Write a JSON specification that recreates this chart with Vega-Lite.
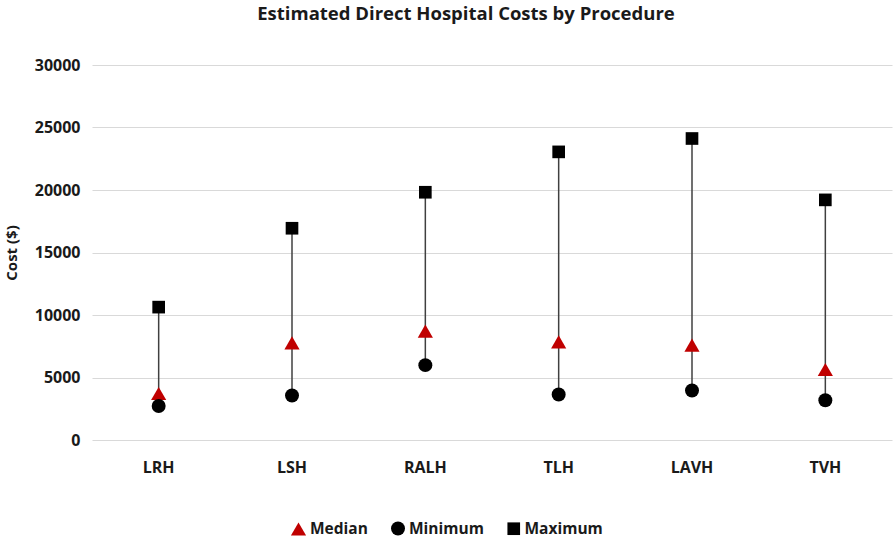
{
  "$schema": "https://vega.github.io/schema/vega-lite/v6.json",
  "autosize": "none",
  "width": 800,
  "height": 375,
  "padding": {"left": 92, "top": 65, "right": 2, "bottom": 98},
  "background": "white",
  "title": {
    "text": "Estimated Direct Hospital Costs by Procedure",
    "font": "Open Sans",
    "fontSize": 18.5,
    "fontWeight": "bold",
    "color": "#1a1a1a",
    "offset": 34,
    "dx": -26
  },
  "config": {
    "view": {"stroke": null},
    "font": "Open Sans"
  },
  "data": {
    "values": [
      {"Procedure": "LRH", "Median": 3720, "Minimum": 2720, "Maximum": 10630},
      {"Procedure": "LSH", "Median": 7770, "Minimum": 3560, "Maximum": 16940},
      {"Procedure": "RALH", "Median": 8710, "Minimum": 5990, "Maximum": 19820},
      {"Procedure": "TLH", "Median": 7850, "Minimum": 3640, "Maximum": 23050},
      {"Procedure": "LAVH", "Median": 7590, "Minimum": 3960, "Maximum": 24120},
      {"Procedure": "TVH", "Median": 5640, "Minimum": 3180, "Maximum": 19210}
    ]
  },
  "encoding": {
    "x": {
      "field": "Procedure",
      "type": "nominal",
      "sort": ["LRH", "LSH", "RALH", "TLH", "LAVH", "TVH"],
      "axis": {
        "title": null,
        "labelAngle": 0,
        "labelFont": "Open Sans",
        "labelFontSize": 16,
        "labelFontWeight": "bold",
        "labelColor": "#1a1a1a",
        "labelPadding": 19,
        "ticks": false,
        "domain": false,
        "grid": false
      }
    }
  },
  "layer": [
    {
      "mark": {"type": "rule", "color": "#404040", "strokeWidth": 1.5},
      "encoding": {
        "y": {"field": "Minimum", "type": "quantitative"},
        "y2": {"field": "Maximum"}
      }
    },
    {
      "transform": [
        {"fold": ["Median", "Minimum", "Maximum"], "as": ["Series", "Cost"]}
      ],
      "mark": {"type": "point", "filled": true, "opacity": 1},
      "encoding": {
        "y": {
          "field": "Cost",
          "type": "quantitative",
          "scale": {"domain": [0, 30000], "nice": false},
          "axis": {
            "title": "Cost ($)",
            "titleFont": "Open Sans",
            "titleFontSize": 15,
            "titleFontWeight": "bold",
            "titleColor": "#1a1a1a",
            "titlePadding": 15,
            "values": [0, 5000, 10000, 15000, 20000, 25000, 30000],
            "format": "d",
            "labelFont": "Open Sans",
            "labelFontSize": 16,
            "labelFontWeight": "bold",
            "labelColor": "#1a1a1a",
            "labelPadding": 12,
            "ticks": false,
            "domain": false,
            "grid": true,
            "gridColor": "#d9d9d9",
            "gridWidth": 1
          }
        },
        "size": {
          "field": "Series",
          "type": "nominal",
          "scale": {
            "domain": ["Median", "Minimum", "Maximum"],
            "range": [230, 160, 160]
          },
          "legend": null
        },
        "shape": {
          "field": "Series",
          "type": "nominal",
          "scale": {
            "domain": ["Median", "Minimum", "Maximum"],
            "range": ["triangle-up", "circle", "square"]
          },
          "legend": {
            "title": null,
            "orient": "none",
            "direction": "horizontal",
            "legendX": 198,
            "legendY": 455,
            "symbolSize": 120,
            "labelFont": "Open Sans",
            "labelFontSize": 15.5,
            "labelFontWeight": "bold",
            "labelColor": "#1a1a1a",
            "labelOffset": 3,
            "columnPadding": 20,
            "symbolOpacity": 1
          }
        },
        "color": {
          "field": "Series",
          "type": "nominal",
          "scale": {
            "domain": ["Median", "Minimum", "Maximum"],
            "range": ["#C00000", "#000000", "#000000"]
          },
          "legend": {
            "title": null,
            "orient": "none",
            "direction": "horizontal",
            "legendX": 198,
            "legendY": 455,
            "symbolSize": 120,
            "labelFont": "Open Sans",
            "labelFontSize": 15.5,
            "labelFontWeight": "bold",
            "labelColor": "#1a1a1a",
            "labelOffset": 3,
            "columnPadding": 20,
            "symbolOpacity": 1
          }
        }
      }
    }
  ]
}
